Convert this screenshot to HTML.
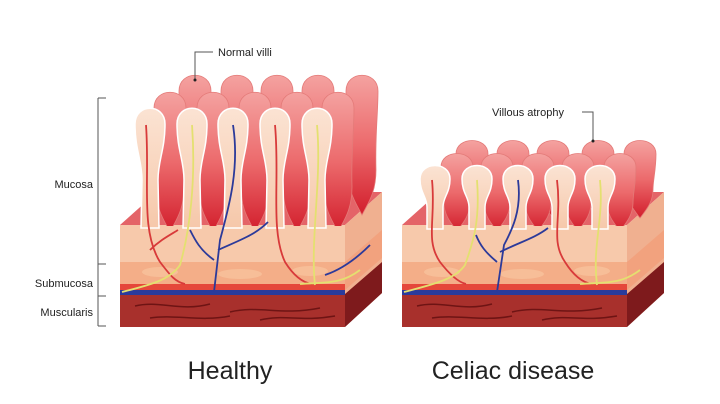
<!DOCTYPE html>
<html><head><meta charset="utf-8"><style>
html,body{margin:0;padding:0;background:#fff;}
svg{display:block}
text{font-family:"Liberation Sans",sans-serif;fill:#222}
</style></head><body>
<svg width="720" height="404" viewBox="0 0 720 404" xmlns="http://www.w3.org/2000/svg">
<defs>
<linearGradient id="rg" x1="0" y1="0" x2="0" y2="1">
<stop offset="0" stop-color="#f4a2a0"/><stop offset="0.5" stop-color="#ec6a6c"/><stop offset="1" stop-color="#d21e2c"/></linearGradient>
<linearGradient id="pg" x1="0" y1="0" x2="0" y2="1">
<stop offset="0" stop-color="#fbe3d3"/><stop offset="1" stop-color="#f6c8aa"/></linearGradient>
<path id="redT" d="M-16,16 C-16,-5 16,-5 16,16 C16,40 13,60 14,95 C14,118 6,128 0,140 C-6,128 -14,118 -14,95 C-13,60 -16,40 -16,16 Z" fill="url(#rg)" stroke="#e47a78" stroke-width="0.8"/>
<path id="paleT" d="M-15,16 C-15,-5 15,-5 15,16 C15,42 8,52 8,72 L9,120 L-9,120 L-8,72 C-8,52 -15,42 -15,16 Z" fill="url(#pg)" stroke="#fff" stroke-width="1.5"/>
<path id="redS" d="M-16,14 C-16,-4 16,-4 16,14 C16,30 13,40 13,50 C13,62 6,70 0,78 C-6,70 -13,62 -13,50 C-13,40 -16,30 -16,14 Z" fill="url(#rg)" stroke="#e47a78" stroke-width="0.8"/>
<path id="paleS" d="M-15,14 C-15,-4 15,-4 15,14 C15,28 8,32 8,42 L8,64 L-8,64 L-8,42 C-8,32 -15,28 -15,14 Z" fill="url(#pg)" stroke="#fff" stroke-width="1.5"/>
<g id="block">
<polygon points="120,225 157,192 382,192 345,225" fill="#e46468"/>
<polygon points="345,225 382,192 382,293 345,327" fill="#f0b090"/>
<polygon points="345,262 382,230 382,258 345,290" fill="#f2a27e"/>
<polygon points="345,294 382,262 382,293 345,327" fill="#7e1a1c"/>
<rect x="120" y="225" width="225" height="37" fill="#f7c9ab"/>
<rect x="120" y="262" width="225" height="22" fill="#f4ae88"/>
<ellipse cx="160" cy="272" rx="18" ry="5" fill="#f7be98"/>
<ellipse cx="240" cy="274" rx="22" ry="5" fill="#f7be98"/>
<ellipse cx="310" cy="271" rx="18" ry="5" fill="#f7be98"/>
<rect x="120" y="284" width="225" height="6" fill="#e5473a"/>
<rect x="120" y="290" width="225" height="5" fill="#2a3b9c"/>
<rect x="120" y="295" width="225" height="32" fill="#a8302c"/>
<path d="M135,306 C160,300 180,312 210,304 M230,312 C260,305 280,316 320,308 M150,318 C175,314 200,322 230,316 M260,320 C285,314 300,322 335,316" stroke="#6e1414" stroke-width="1.5" fill="none"/>
</g>
</defs>

<!-- Healthy -->
<use href="#block"/>
<g>
<use href="#redT" x="195" y="75" transform="translate(0,0)"/>
<use href="#redT" x="237" y="75"/>
<use href="#redT" x="277" y="75"/>
<use href="#redT" x="318" y="75"/>
<use href="#redT" x="362" y="75"/>
<use href="#redT" x="170" y="92"/>
<use href="#redT" x="213" y="92"/>
<use href="#redT" x="255" y="92"/>
<use href="#redT" x="297" y="92"/>
<use href="#redT" x="338" y="92"/>
<rect x="120" y="226" width="225" height="36" fill="#f7c9ab"/>
<use href="#paleT" x="150" y="108"/>
<use href="#paleT" x="192" y="108"/>
<use href="#paleT" x="233" y="108"/>
<use href="#paleT" x="275" y="108"/>
<use href="#paleT" x="317" y="108"/>
</g>
<g fill="none" stroke-width="1.8">
<path d="M146,125 C150,180 140,230 160,262 C170,275 175,282 185,284 M150,250 C160,240 170,235 178,230" stroke="#d83a3a"/>
<path d="M192,125 C196,180 190,230 180,265 C170,280 150,285 122,292" stroke="#e4e070"/>
<path d="M233,125 C240,170 228,210 220,240 L214,292 M214,260 C200,250 195,240 190,230 M218,250 C240,240 255,235 268,222" stroke="#2c3a9a"/>
<path d="M275,125 C280,180 270,230 285,262 C295,278 305,283 312,284" stroke="#d83a3a"/>
<path d="M317,125 C322,180 310,240 315,285 M300,284 C325,282 340,285 360,270" stroke="#e4e070"/>
<path d="M325,275 C340,270 355,260 370,245" stroke="#2c3a9a"/>
</g>

<!-- Celiac -->
<use href="#block" x="282"/>
<g>
<use href="#redS" x="472" y="140"/>
<use href="#redS" x="513" y="140"/>
<use href="#redS" x="553" y="140"/>
<use href="#redS" x="598" y="140"/>
<use href="#redS" x="640" y="140"/>
<use href="#redS" x="457" y="153"/>
<use href="#redS" x="497" y="153"/>
<use href="#redS" x="538" y="153"/>
<use href="#redS" x="578" y="153"/>
<use href="#redS" x="620" y="153"/>
<rect x="402" y="226" width="225" height="36" fill="#f7c9ab"/>
<use href="#paleS" x="435" y="165"/>
<use href="#paleS" x="477" y="165"/>
<use href="#paleS" x="518" y="165"/>
<use href="#paleS" x="560" y="165"/>
<use href="#paleS" x="600" y="165"/>
</g>
<g fill="none" stroke-width="1.8">
<path d="M432,180 C436,220 425,240 440,262 C450,275 458,282 466,284" stroke="#d83a3a"/>
<path d="M477,180 C480,220 474,240 465,265 C455,280 430,285 404,292" stroke="#e4e070"/>
<path d="M518,180 C522,210 512,230 504,245 L497,292 M497,262 C485,252 480,245 476,235 M500,252 C520,242 535,238 548,228" stroke="#2c3a9a"/>
<path d="M557,180 C562,220 550,240 565,262 C575,278 585,283 592,284" stroke="#d83a3a"/>
<path d="M600,180 C604,220 592,245 597,285 M580,284 C605,282 620,285 640,270" stroke="#e4e070"/>
</g>

<!-- Labels -->
<g fill="none" stroke="#555" stroke-width="1">
<path d="M98,98 L98,326 M98,98 L106,98 M98,264 L106,264 M98,296 L106,296 M98,326 L106,326"/>
<path d="M213,52 L195,52 L195,79"/>
<path d="M582,112 L593,112 L593,140"/>
</g>
<circle cx="195" cy="80" r="1.5" fill="#222"/>
<circle cx="593" cy="141" r="1.5" fill="#222"/>
<text x="218" y="56" font-size="11">Normal villi</text>
<text x="492" y="116" font-size="11">Villous atrophy</text>
<text x="93" y="188" font-size="11" text-anchor="end">Mucosa</text>
<text x="93" y="287" font-size="11" text-anchor="end">Submucosa</text>
<text x="93" y="316" font-size="11" text-anchor="end">Muscularis</text>
<text x="230" y="379" font-size="25" text-anchor="middle">Healthy</text>
<text x="513" y="379" font-size="25" text-anchor="middle">Celiac disease</text>
</svg>
</body></html>
